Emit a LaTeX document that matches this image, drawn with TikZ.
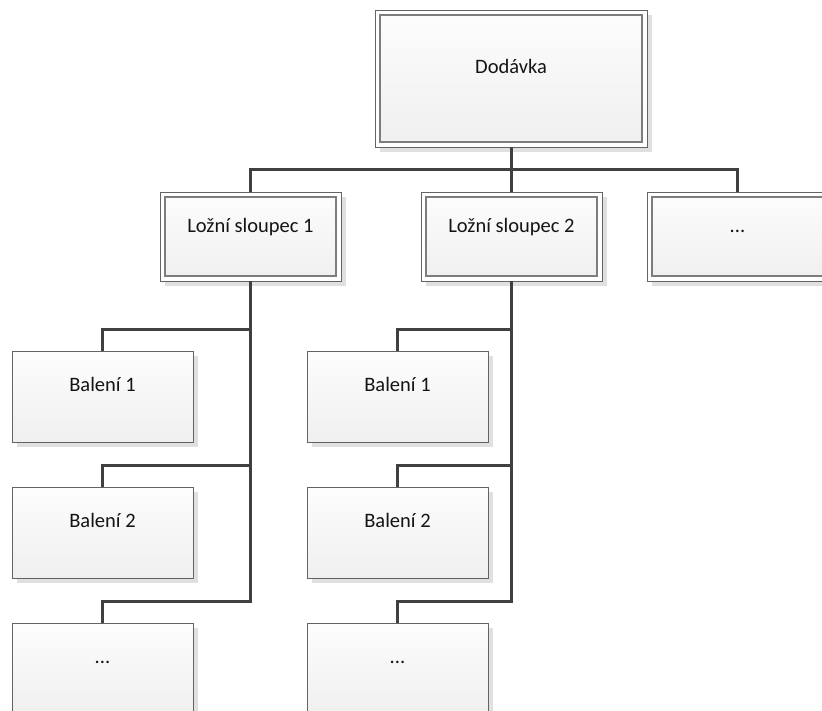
\documentclass[tikz,border=0pt]{standalone}
\usepackage{fontspec}
\setmainfont{Carlito}
\usetikzlibrary{shadows}

\definecolor{boxtop}{RGB}{253,253,253}
\definecolor{boxbot}{RGB}{239,239,239}
\definecolor{shadowgray}{RGB}{224,224,224}
\definecolor{edge}{RGB}{100,100,100}
\definecolor{inneredge}{RGB}{125,125,125}
\definecolor{wire}{RGB}{64,64,64}
\definecolor{ink}{RGB}{20,20,20}

\tikzset{
  x=1pt, y=1pt,
  boxshadow/.style={drop shadow={shadow xshift=4.5pt, shadow yshift=-4.5pt,
      fill=shadowgray, opacity=1}},
  % plain box: single thin border, soft vertical gradient
  plainbox/.style={rectangle, draw=edge, line width=1pt, inner sep=0pt,
      outer sep=0pt, anchor=north west, minimum width=181pt,
      minimum height=91pt, top color=boxtop, bottom color=boxbot, boxshadow},
  % framed box: outer border plus an inset inner frame
  framebox/.style={rectangle, draw=edge, line width=1pt, inner sep=0pt,
      outer sep=0pt, anchor=north west, fill=white, boxshadow,
      path picture={
        \draw[inneredge, line width=1.3pt, top color=boxtop, bottom color=boxbot]
          ([shift={(5pt,-5pt)}]path picture bounding box.north west) rectangle
          ([shift={(-5pt,5pt)}]path picture bounding box.south east);}},
  midbox/.style={framebox, minimum width=181pt, minimum height=89pt},
  topbox/.style={framebox, minimum width=272pt, minimum height=137pt},
  lbl/.style={anchor=base, inner sep=0pt, text=ink,
      font=\fontsize{20.5}{24}\selectfont},
  conn/.style={draw=wire, line width=3pt},
}

\begin{document}
\begin{tikzpicture}
  \useasboundingbox (0,0) rectangle (822,-710);
  \clip (0,0) rectangle (822,-710);

  % connectors first, so the boxes sit on top of them
  \coordinate (bus) at (0,-169);

  % boxes
  \node[topbox] (dod) at (375,-10) {};
  \node[midbox] (s1) at (160,-192) {};
  \node[midbox] (s2) at (421,-192) {};
  \node[midbox] (s3) at (647,-192) {};

  \node[plainbox] (a1) at (12,-351) {};
  \node[plainbox] (a2) at (12,-487) {};
  \node[plainbox] (a3) at (12,-623) {};
  \node[plainbox] (b1) at (307,-351) {};
  \node[plainbox] (b2) at (307,-487) {};
  \node[plainbox] (b3) at (307,-623) {};

  % labels
  \node[lbl] (tdod) at ([yshift=-63pt]dod.north) {Dodávka};
  \node[lbl] (ts1) at ([yshift=-40pt]s1.north) {Ložní sloupec 1};
  \node[lbl] (ts2) at ([yshift=-40pt]s2.north) {Ložní sloupec 2};
  \node[lbl] (ts3) at ([yshift=-40pt]s3.north) {...};
  \node[lbl] (ta1) at ([yshift=-40pt]a1.north) {Balení 1};
  \node[lbl] (ta2) at ([yshift=-40pt]a2.north) {Balení 2};
  \node[lbl] (ta3) at ([yshift=-40pt]a3.north) {...};
  \node[lbl] (tb1) at ([yshift=-40pt]b1.north) {Balení 1};
  \node[lbl] (tb2) at ([yshift=-40pt]b2.north) {Balení 2};
  \node[lbl] (tb3) at ([yshift=-40pt]b3.north) {...};

  % top level to columns
  \draw[conn] (dod.south) -- (dod.south |- bus) -| (s1.north);
  \draw[conn] (dod.south |- bus) -| (s2.north);
  \draw[conn] (dod.south |- bus) -| (s3.north);

  % column trunks to packages
  \foreach \col/\kid in {s1/a1, s1/a2, s1/a3, s2/b1, s2/b2, s2/b3}{
    \draw[conn] (\col.south) |- ([yshift=22pt]\kid.north) -- (\kid.north);
  }
\end{tikzpicture}
\end{document}
